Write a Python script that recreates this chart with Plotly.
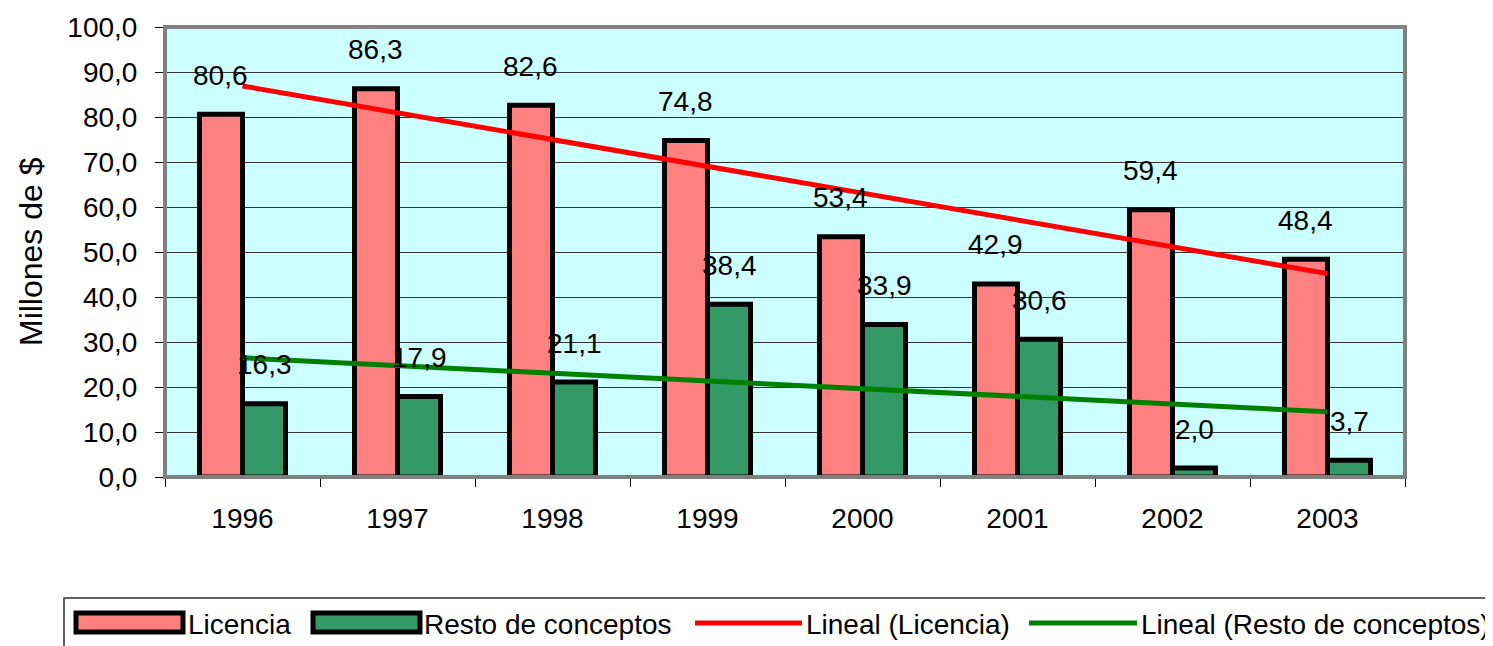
import numpy as np
import plotly.graph_objects as go

years = ["1996", "1997", "1998", "1999", "2000", "2001", "2002", "2003"]
licencia = [80.6, 86.3, 82.6, 74.8, 53.4, 42.9, 59.4, 48.4]
resto = [16.3, 17.9, 21.1, 38.4, 33.9, 30.6, 2.0, 3.7]
y_ticks = [0, 10, 20, 30, 40, 50, 60, 70, 80, 90, 100]

# Linear trend lines (least squares, as in the original "Lineal" trendlines)
xi = np.arange(1, len(years) + 1)
p_lic = np.polyfit(xi, licencia, 1)
p_res = np.polyfit(xi, resto, 1)
trend_lic = np.polyval(p_lic, xi)
trend_res = np.polyval(p_res, xi)

FONT = "Liberation Sans, Arial, sans-serif"
OFF = 8  # default page body margin
W, H = 1493, 646
# page-pixel layout of the plot area
PL, PR, PT, PB = 165, 1405, 27, 477
L, R, T, B = PL - OFF, (W + OFF - PR), PT - OFF, (H + OFF - PB)
PW, PH = PR - PL, PB - PT


def px(x):
    return (x - PL) / PW


def py(y):
    return (PB - y) / PH


fig = go.Figure()
fig.add_trace(go.Bar(x=years, y=licencia, name="Licencia",
                     marker=dict(color="#FF8080", line=dict(color="black", width=5)),
                     showlegend=False))
fig.add_trace(go.Bar(x=years, y=resto, name="Resto de conceptos",
                     marker=dict(color="#339966", line=dict(color="black", width=5)),
                     showlegend=False))
fig.add_trace(go.Scatter(x=years, y=trend_lic, mode="lines", name="Lineal (Licencia)",
                         line=dict(color="#FF0000", width=5), showlegend=False))
fig.add_trace(go.Scatter(x=years, y=trend_res, mode="lines", name="Lineal (Resto de conceptos)",
                         line=dict(color="#008000", width=5), showlegend=False))

annotations = []
for i, v in enumerate(licencia):
    annotations.append(dict(x=i, y=v, xref="x", yref="y", text=f"{v:.1f}".replace(".", ","),
                            showarrow=False, xshift=-22, yshift=39, yanchor="middle",
                            font=dict(size=28, color="black", family=FONT)))
for i, v in enumerate(resto):
    annotations.append(dict(x=i, y=v, xref="x", yref="y", text=f"{v:.1f}".replace(".", ","),
                            showarrow=False, xshift=22, yshift=39, yanchor="middle",
                            font=dict(size=28, color="black", family=FONT)))

# Y-axis title
annotations.append(dict(x=px(31), y=py(252), xref="paper", yref="paper", text="Millones de $",
                        textangle=-90, showarrow=False, xanchor="center", yanchor="middle",
                        font=dict(size=32, color="black", family=FONT)))

shapes = [
    # plot-area border
    dict(type="rect", xref="paper", yref="paper", x0=0, x1=1, y0=0, y1=1,
         line=dict(color="#808080", width=4), layer="above"),
    # legend box
    dict(type="rect", xref="paper", yref="paper", x0=px(64), x1=px(1520), y0=py(598), y1=py(680),
         line=dict(color="#303030", width=1.5), fillcolor="white", layer="above"),
    # legend swatches
    dict(type="rect", xref="paper", yref="paper", x0=px(76), x1=px(183), y0=py(613), y1=py(632),
         line=dict(color="black", width=5), fillcolor="#FF8080", layer="above"),
    dict(type="rect", xref="paper", yref="paper", x0=px(313), x1=px(420), y0=py(613), y1=py(632),
         line=dict(color="black", width=5), fillcolor="#339966", layer="above"),
    dict(type="line", xref="paper", yref="paper", x0=px(695), x1=px(802), y0=py(623), y1=py(623),
         line=dict(color="#FF0000", width=5), layer="above"),
    dict(type="line", xref="paper", yref="paper", x0=px(1029), x1=px(1137), y0=py(623), y1=py(623),
         line=dict(color="#008000", width=5), layer="above"),
]

for text, x0 in [("Licencia", 188), ("Resto de conceptos", 424),
                 ("Lineal (Licencia)", 806), ("Lineal (Resto de conceptos)", 1141)]:
    annotations.append(dict(x=px(x0 - 2), y=py(624), xref="paper", yref="paper", text=text,
                            showarrow=False, xanchor="left", yanchor="middle",
                            font=dict(size=28, color="black", family=FONT)))

fig.update_layout(
    width=W, height=H,
    margin=dict(l=L, r=R, t=T, b=B, pad=0, autoexpand=False),
    paper_bgcolor="white", plot_bgcolor="#CCFFFF",
    barmode="group", bargap=0.445, bargroupgap=0,
    separators=",.",
    font=dict(family=FONT, size=28, color="black"),
    annotations=annotations, shapes=shapes,
    showlegend=False,
)
fig.update_xaxes(type="category", range=[-0.5, 7.5], tickson="boundaries", ticks="outside",
                 ticklen=9, tickwidth=1, tickcolor="black", showgrid=False, showline=False,
                 automargin=False, tickangle=0,
                 ticklabelstandoff=22, tickfont=dict(size=28, family=FONT, color="black"))
fig.update_yaxes(range=[0, 100], tickvals=y_ticks, tickformat=".1f", ticks="outside",
                 ticklen=9, tickwidth=1, tickcolor="black", showgrid=True, automargin=False,
                 gridcolor="#333333", gridwidth=1, zeroline=False, showline=False,
                 ticklabelstandoff=12, tickfont=dict(size=28, family=FONT, color="black"))

fig.write_html("out.html")
